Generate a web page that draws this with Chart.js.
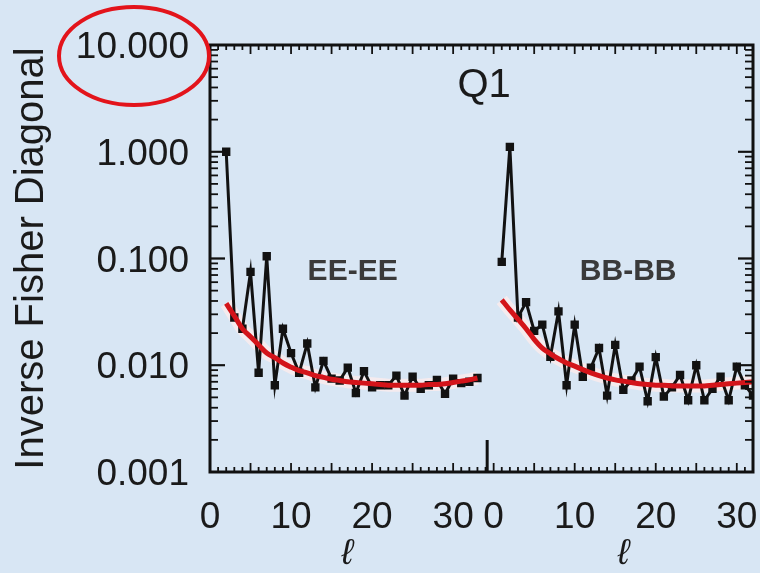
<!DOCTYPE html>
<html>
<head>
<meta charset="utf-8">
<script src="https://cdn.jsdelivr.net/npm/chart.js@4.4.1/dist/chart.umd.min.js"></script>
<style>
  html, body { margin: 0; padding: 0; background: #d8e6f4; }
  #wrap { width: 760px; height: 573px; }
</style>
</head>
<body>
<div id="wrap"><canvas id="myChart" width="760" height="573"></canvas></div>
<script>
// EE-EE panel
var ellEE = [2, 3, 4, 5, 6, 7, 8, 9, 10, 11, 12, 13, 14, 15, 16, 17, 18, 19, 20, 21, 22, 23, 24, 25, 26, 27, 28, 29, 30, 31, 32, 33];
var invFisherEE = [1.0, 0.028, 0.022, 0.075, 0.0085, 0.105, 0.0065, 0.022, 0.013, 0.0085, 0.016, 0.0062, 0.011, 0.0075, 0.0072, 0.0095,
                   0.0055, 0.0088, 0.0062, 0.0065, 0.0065, 0.0080, 0.0052, 0.0078, 0.0060, 0.0065, 0.0073, 0.0054, 0.0075, 0.0068, 0.0070, 0.0076];
var fitEE = [0.038, 0.029, 0.022, 0.0185, 0.0155, 0.013, 0.0118, 0.0105, 0.0096, 0.0089, 0.0085, 0.0080, 0.0077, 0.0074, 0.0072, 0.0070,
             0.0069, 0.0068, 0.0067, 0.0066, 0.0065, 0.0065, 0.0065, 0.0065, 0.0065, 0.0066, 0.0066, 0.0067, 0.0069, 0.0071, 0.0073, 0.0076];

// BB-BB panel
var ellBB = [1, 2, 3, 4, 5, 6, 7, 8, 9, 10, 11, 12, 13, 14, 15, 16, 17, 18, 19, 20, 21, 22, 23, 24, 25, 26, 27, 28, 29, 30, 31, 32];
var invFisherBB = [0.093, 1.11, 0.028, 0.039, 0.021, 0.024, 0.012, 0.032, 0.0065, 0.024, 0.0078, 0.0095, 0.0145, 0.0052, 0.0155, 0.0059,
                   0.0072, 0.0097, 0.0046, 0.0119, 0.0051, 0.0062, 0.0081, 0.0047, 0.0100, 0.0047, 0.0060, 0.0078, 0.0047, 0.0097, 0.0065, 0.0052];
var fitBB = [0.041, 0.033, 0.027, 0.022, 0.0175, 0.0145, 0.0128, 0.0115, 0.0105, 0.0098, 0.0091, 0.0085, 0.0080, 0.0076, 0.0073, 0.0071,
             0.0069, 0.0067, 0.0066, 0.0065, 0.0065, 0.0064, 0.0064, 0.0064, 0.0064, 0.0064, 0.0065, 0.0066, 0.0067, 0.0068, 0.0069, 0.0070];

var yTicks = [10, 1, 0.1, 0.01, 0.001];
var xTicks = [0, 10, 20, 30];
var panelOffset = 35;   // BB panel starts here on the shared x scale
var panelSplit = 34.2;  // divider between the two panels
var xMax = 67;

var FONT = 'Liberation Sans, Arial, Helvetica, sans-serif';

function points(ells, vals, off) {
    return ells.map(function (l, i) { return { x: l + off, y: vals[i] }; });
}

function fitLine(data) {
    return { data: data, borderColor: '#d3141a', borderWidth: 5, pointRadius: 0,
             cubicInterpolationMode: 'monotone', order: 1 };
}
function haloLine(data) {
    return { data: data, borderColor: 'rgba(255, 236, 236, 0.75)', borderWidth: 13, pointRadius: 0,
             cubicInterpolationMode: 'monotone', order: 4 };
}
function dataLine(data) {
    return { data: data, borderColor: '#121212', borderWidth: 3, pointStyle: 'rect', pointRadius: 3.8,
             pointBackgroundColor: '#121212', pointBorderColor: '#121212', tension: 0, order: 2 };
}

// frame, inward ticks and the text drawn inside the box
var decorations = {
    id: 'decorations',
    afterDraw: function (chart) {
        var ctx = chart.ctx, a = chart.chartArea;
        var xs = chart.scales.x, ys = chart.scales.y;
        ctx.save();
        ctx.strokeStyle = '#111';
        ctx.lineWidth = 3;
        ctx.strokeRect(a.left, a.top, a.right - a.left, a.bottom - a.top);

        function seg(x1, y1, x2, y2) {
            ctx.beginPath(); ctx.moveTo(x1, y1); ctx.lineTo(x2, y2); ctx.stroke();
        }

        // log ticks left and right
        ctx.lineWidth = 1.8;
        for (var d = -3; d <= 0; d++) {
            for (var m = 1; m <= 10; m++) {
                var py = ys.getPixelForValue(m * Math.pow(10, d));
                var len = (m === 1 || m === 10) ? 15 : 8;
                seg(a.left, py, a.left + len, py);
                seg(a.right, py, a.right - len, py);
            }
        }

        // unit ticks top and bottom, per panel
        for (var v = 0; v <= xMax; v++) {
            if (v > panelSplit && v < panelOffset) continue;
            var local = v >= panelOffset ? v - panelOffset : v;
            var px = xs.getPixelForValue(v);
            var l = local % 5 === 0 ? 9 : 5;
            seg(px, a.bottom, px, a.bottom - l);
            seg(px, a.top, px, a.top + l);
        }
        ctx.lineWidth = 3;
        var sx = xs.getPixelForValue(panelSplit);
        seg(sx, a.bottom, sx, a.bottom - 32);

        // text
        ctx.fillStyle = '#1a1a1a';
        ctx.textAlign = 'center';
        ctx.textBaseline = 'middle';
        ctx.font = '40px ' + FONT;
        ctx.fillText('Q1', sx - 3, a.top + 41);

        ctx.fillStyle = '#3a3a3a';
        ctx.font = 'bold 30px ' + FONT;
        ctx.fillText('EE-EE', xs.getPixelForValue(17.6), ys.getPixelForValue(0.075));
        ctx.fillText('BB-BB', xs.getPixelForValue(panelOffset + 16.6), ys.getPixelForValue(0.075));

        ctx.fillStyle = '#1a1a1a';
        ctx.font = 'italic 36px ' + FONT;
        ctx.fillText('\u2113', xs.getPixelForValue(16.9), 554);
        ctx.fillText('\u2113', xs.getPixelForValue(panelOffset + 16), 554);

        // red ring around the top label
        ctx.strokeStyle = '#e3141b';
        ctx.lineWidth = 4;
        ctx.beginPath();
        ctx.ellipse(134, 56, 75, 49, 0, 0, Math.PI * 2);
        ctx.stroke();
        ctx.restore();
    }
};

var ctx = document.getElementById('myChart').getContext('2d');

var chart = new Chart(ctx, {
    type: 'line',
    data: {
        datasets: [
            dataLine(points(ellEE, invFisherEE, 0)),
            dataLine(points(ellBB, invFisherBB, panelOffset)),
            fitLine(points(ellEE, fitEE, 0)),
            fitLine(points(ellBB, fitBB, panelOffset)),
            haloLine(points(ellEE, fitEE, 0)),
            haloLine(points(ellBB, fitBB, panelOffset))
        ]
    },
    options: {
        responsive: false,
        animation: false,
        events: [],
        layout: { padding: { top: 45, right: 1, left: 0, bottom: 0 } },
        plugins: { legend: { display: false }, tooltip: { enabled: false } },
        scales: {
            x: {
                type: 'linear', min: 0, max: xMax,
                grid: { display: false }, border: { display: false },
                afterBuildTicks: function (axis) {
                    var t = [];
                    xTicks.forEach(function (v) { t.push({ value: v }); });
                    xTicks.forEach(function (v) { t.push({ value: v + panelOffset }); });
                    axis.ticks = t;
                },
                afterFit: function (axis) {
                    axis.height = 101;
                    axis.paddingLeft = 0;
                    axis.paddingRight = 0;
                },
                ticks: {
                    autoSkip: false, maxRotation: 0, padding: 16, color: '#1a1a1a',
                    font: { family: FONT, size: 37 },
                    callback: function (v) { return v >= panelOffset ? v - panelOffset : v; }
                }
            },
            y: {
                type: 'logarithmic', min: 0.001, max: 10,
                grid: { display: false }, border: { display: false },
                afterBuildTicks: function (axis) {
                    axis.ticks = yTicks.map(function (v) { return { value: v }; });
                },
                afterFit: function (axis) {
                    axis.width = 210;
                    axis.paddingTop = 0;
                    axis.paddingBottom = 0;
                },
                ticks: {
                    padding: 13, color: '#1a1a1a', labelOffset: 3,
                    font: { family: FONT, size: 37 },
                    callback: function (v) { return Number(v).toFixed(3); }
                },
                title: {
                    display: true, text: 'Inverse Fisher Diagonal', color: '#1a1a1a',
                    font: { family: FONT, size: 40 }, padding: { top: 8, bottom: 0 }
                }
            }
        }
    },
    plugins: [decorations]
});
</script>
</body>
</html>
